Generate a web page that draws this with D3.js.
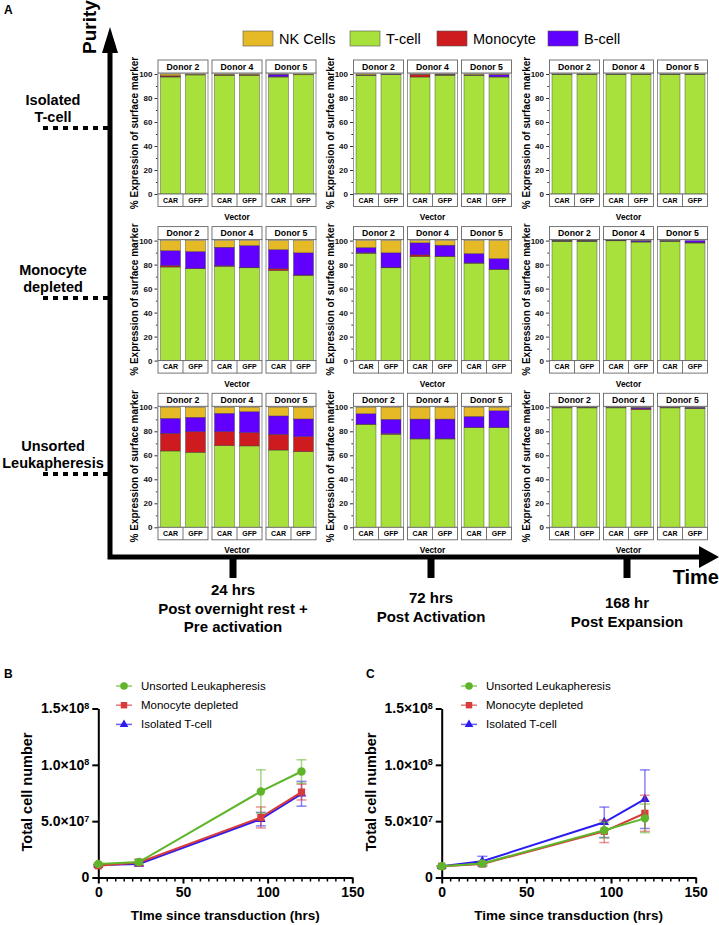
<!DOCTYPE html>
<html><head><meta charset="utf-8">
<script src="https://cdn.jsdelivr.net/npm/d3@7"></script>
<style>
body{margin:0;background:#fff;}
svg{display:block;font-family:"Liberation Sans",Arial,Helvetica,sans-serif;}
</style></head><body>
<svg id="fig" width="719" height="925"></svg>
<script>
// ---------------- DATA ----------------
const rowLabels = [["Isolated","T-cell"],["Monocyte","depleted"],["Unsorted","Leukapheresis"]];
const timeLabels = [["24 hrs","Post overnight rest +","Pre activation"],["72 hrs","Post Activation"],["168 hr","Post Expansion"]];
const donors = ["Donor 2","Donor 4","Donor 5"];
const vectors = ["CAR","GFP"];
const stackKeys = ["T-cell","Monocyte","B-cell","NK Cells"];   // bottom -> top
const legendKeys = ["NK Cells","T-cell","Monocyte","B-cell"];
const pctTicks = [0,20,40,60,80,100];
const pctMinor = [10,30,50,70,90];
// [row][time][bar]; bars = D2 CAR, D2 GFP, D4 CAR, D4 GFP, D5 CAR, D5 GFP
const tcell = [
  [[97.5,99.2,99.0,99.0,97.5,99.3],[99.0,99.5,97.5,99.0,99.0,97.5],[99.8,99.8,99.8,99.8,99.8,99.8]],
  [[78.0,76.5,78.5,77.3,75.1,71.0],[89.5,77.3,86.7,86.7,81.2,76.0],[99.5,99.5,99.8,98.8,99.5,98.0]],
  [[63.6,62.5,68.0,67.8,64.4,63.0],[85.8,77.5,73.6,73.6,83.0,83.0],[99.5,99.5,99.5,98.0,99.5,99.0]]
];
const monocyte = [
  [[0.8,0.2,0.2,0.2,0.3,0.1],[0.1,0.1,2.0,0.3,0.1,0.1],[0.05,0.05,0.05,0.05,0.05,0.05]],
  [[1.2,0.3,0.5,0.3,1.4,0.3],[0.3,0.5,1.4,0.3,0.2,0.2],[0.1,0.1,0.05,0.3,0.1,0.5]],
  [[14.7,17.2,11.7,11.1,13.1,12.6],[0.2,0.6,0.2,0.2,0.2,0.2],[0.1,0.1,0.1,0.8,0.1,0.2]]
];
const bcell = [
  [[0.2,0.2,0.3,0.3,2.0,0.2],[0.1,0.3,0.2,0.5,0.3,2.0],[0.05,0.05,0.05,0.05,0.05,0.05]],
  [[12.4,14.1,15.5,18.3,16.0,18.5],[4.4,12.0,10.0,9.2,7.8,8.8],[0.2,0.2,0.1,0.8,0.3,1.5]],
  [[12.5,12.0,15.3,17.5,15.3,14.7],[8.6,11.9,16.4,16.4,9.2,13.9],[0.2,0.2,0.2,1.0,0.2,0.7]]
];
const nkcell = [
  [[1.5,0.4,0.5,0.5,0.2,0.4],[0.8,0.1,0.3,0.2,0.6,0.4],[0.1,0.1,0.1,0.1,0.1,0.1]],
  [[8.4,9.1,5.5,4.1,7.5,10.2],[5.8,10.2,1.9,3.8,10.8,15.0],[0.2,0.2,0.05,0.1,0.1,0.0]],
  [[9.2,8.3,5.0,3.6,7.2,9.7],[5.4,10.0,9.8,9.8,7.6,2.9],[0.2,0.2,0.2,0.2,0.2,0.1]]
];

const timeHrs = [0,24,96,120];
const seriesNames = ["Unsorted Leukapheresis","Monocyte depleted","Isolated T-cell"];
const unsortedB = [1.19e7,1.37e7,7.64e7,9.41e7], unsortedBErr = [0.1e7,0.2e7,1.92e7,1.04e7];
const monoB     = [1.04e7,1.33e7,5.33e7,7.58e7], monoBErr     = [0.1e7,0.3e7,0.93e7,0.7e7];
const isoB      = [1.10e7,1.20e7,5.18e7,7.43e7], isoBErr      = [0.05e7,0.15e7,0.6e7,1.1e7];
const unsortedC = [1.0e7,1.25e7,4.2e7,5.25e7],   unsortedCErr = [0.05e7,0.1e7,0.7e7,1.27e7];
const monoC     = [1.0e7,1.2e7,4.1e7,5.7e7],     monoCErr     = [0.05e7,0.1e7,1.0e7,1.6e7];
const isoC      = [1.0e7,1.44e7,4.9e7,6.95e7],   isoCErr      = [0.05e7,0.44e7,1.35e7,2.6e7];
const cellTicksY = [0,5e7,1e8,1.5e8];
const hrsTicks = [0,50,100,150];

// ---------------- STYLE ----------------
const cellColor = {"NK Cells":"#E6B927","T-cell":"#A8E13C","Monocyte":"#CE1B1F","B-cell":"#6200FF"};
const lineColor = ["#5FB52A","#D83B3B","#2B1BF2"];

const svg = d3.select("#fig");
const BOLD = "bold";

// panel letters
svg.append("text").attr("x",4).attr("y",14).attr("font-size",12).attr("font-weight",BOLD).text("A");
svg.append("text").attr("x",4).attr("y",678).attr("font-size",12).attr("font-weight",BOLD).text("B");
svg.append("text").attr("x",366).attr("y",678).attr("font-size",12).attr("font-weight",BOLD).text("C");

// ---------------- top legend ----------------
const legX = [243,350,437,548];
legendKeys.forEach((k,i)=>{
  svg.append("rect").attr("x",legX[i]).attr("y",31).attr("width",30).attr("height",15)
    .attr("fill",cellColor[k]).attr("stroke","#555").attr("stroke-width",0.6);
  svg.append("text").attr("x",legX[i]+36).attr("y",39).attr("dy","0.35em")
    .attr("font-size",14.5).text(k);
});

// ---------------- big axes ----------------
svg.append("path").attr("d","M110,48 V557 H703").attr("fill","none").attr("stroke","#000")
  .attr("stroke-width",5).attr("stroke-linejoin","miter");
svg.append("path").attr("d","M110,27 L102,53 L118,53 Z").attr("fill","#000");
svg.append("path").attr("d","M719,557 L699,546 L699,568 Z").attr("fill","#000");
svg.append("text").attr("transform","translate(96,27) rotate(-90)").attr("text-anchor","middle")
  .attr("font-size",19).attr("font-weight",BOLD).text("Purity");
svg.append("text").attr("x",719).attr("y",584).attr("text-anchor","end")
  .attr("font-size",20).attr("font-weight",BOLD).text("Time");

const timeTickX = [233,431,627];
const timeBase = [595,603,608];
timeLabels.forEach((lines,i)=>{
  svg.append("rect").attr("x",timeTickX[i]-3.5).attr("y",557).attr("width",7).attr("height",21).attr("fill","#000");
  lines.forEach((t,j)=>{
    svg.append("text").attr("x",timeTickX[i]).attr("y",timeBase[i]+j*18.5).attr("text-anchor","middle")
      .attr("font-size",15).attr("font-weight",BOLD).text(t);
  });
});

// row labels + dashed lines
const rowDashY = [128,298,474];
rowLabels.forEach((lines,i)=>{
  lines.forEach((t,j)=>{
    svg.append("text").attr("x",53).attr("y",rowDashY[i]-23+j*17).attr("text-anchor","middle")
      .attr("font-size",14.5).attr("font-weight",BOLD).text(t);
  });
  svg.append("line").attr("x1",108).attr("x2",40).attr("y1",rowDashY[i]).attr("y2",rowDashY[i])
    .attr("stroke","#000").attr("stroke-width",4).attr("stroke-dasharray","5,5");
});

// ---------------- stacked bar panels ----------------
const colAxisX = [157.5,353,549];
const rowBaseY = [194,360.6,527.3];
const plotH = 120, headerH = 13, footH = 12.5, panelW = 50, donorStep = 54;

for(let r=0;r<3;r++){
  for(let c=0;c<3;c++){
    const ax = colAxisX[c], base = rowBaseY[r];
    const y = d3.scaleLinear().domain([0,100]).range([base, base-plotH]);
    const gA = svg.append("g").attr("transform",`translate(${ax},0)`)
      .call(d3.axisLeft(y).tickValues(pctTicks).tickSize(3).tickSizeOuter(0).tickPadding(2));
    gA.selectAll("text").attr("font-size",8).attr("font-weight",BOLD).attr("fill","#111").attr("font-family","Liberation Sans, Arial, sans-serif");
    gA.selectAll("line,path").attr("stroke","#333");
    const gM = svg.append("g").attr("transform",`translate(${ax},0)`)
      .call(d3.axisLeft(y).tickValues(pctMinor).tickSize(1.6).tickSizeOuter(0).tickFormat(""));
    gM.select("path").remove();
    gM.selectAll("line").attr("stroke","#333");
    svg.append("text").attr("transform",`translate(${ax-23},${base-61}) rotate(-90)`)
      .attr("text-anchor","middle").attr("dy","0.35em").attr("font-size",10).attr("font-weight",BOLD)
      .text("% Expression of surface marker");
    const cx = ax+0.5+(2*donorStep+panelW)/2;
    svg.append("text").attr("x",cx).attr("y",base+23).attr("dy","0.35em").attr("text-anchor","middle")
      .attr("font-size",8.3).attr("font-weight",BOLD).text("Vector");

    for(let d=0; d<3; d++){
      const px = ax+0.5+d*donorStep;
      const x = d3.scaleBand().domain(vectors).range([px,px+panelW]).paddingInner(0.2).paddingOuter(0.1);
      const table = vectors.map((v,vi)=>{
        const i = d*2+vi;
        return {vector:v,"T-cell":tcell[r][c][i],"Monocyte":monocyte[r][c][i],"B-cell":bcell[r][c][i],"NK Cells":nkcell[r][c][i]};
      });
      const stacked = d3.stack().keys(stackKeys)(table);
      svg.append("rect").attr("x",px).attr("y",base-plotH-1).attr("width",panelW).attr("height",plotH+1)
        .attr("fill","#fff").attr("stroke","#9a9a9a").attr("stroke-width",1);
      stacked.forEach(s=>{
        svg.append("g").selectAll("rect").data(s).join("rect")
          .attr("x",dd=>x(dd.data.vector)).attr("width",x.bandwidth())
          .attr("y",dd=>y(dd[1])).attr("height",dd=>Math.max(0,y(dd[0])-y(dd[1])))
          .attr("fill",cellColor[s.key]).attr("stroke","#3a3a3a").attr("stroke-width",0.4);
      });
      svg.append("rect").attr("x",px).attr("y",base-plotH-1-headerH).attr("width",panelW).attr("height",headerH)
        .attr("fill","#fff").attr("stroke","#666").attr("stroke-width",0.9);
      svg.append("text").attr("x",px+panelW/2).attr("y",base-plotH-1-headerH/2).attr("dy","0.35em")
        .attr("text-anchor","middle").attr("font-size",8.7).attr("font-weight",BOLD).text(donors[d]);
      svg.append("rect").attr("x",px).attr("y",base).attr("width",panelW).attr("height",footH)
        .attr("fill","#fff").attr("stroke","#666").attr("stroke-width",0.9);
      svg.append("line").attr("x1",px+panelW/2).attr("x2",px+panelW/2).attr("y1",base).attr("y2",base+footH)
        .attr("stroke","#666").attr("stroke-width",0.9);
      vectors.forEach(v=>{
        svg.append("text").attr("x",x(v)+x.bandwidth()/2).attr("y",base+footH/2).attr("dy","0.35em")
          .attr("text-anchor","middle").attr("font-size",7).attr("font-weight",BOLD).text(v);
      });
    }
  }
}

// ---------------- line charts ----------------
function lineChart(x0, seriesVals, seriesErr, xTitle, legendX){
  const x = d3.scaleLinear().domain([0,150]).range([x0, x0+254]);
  const y = d3.scaleLinear().domain([0,1.5e8]).range([877.5,708.5]);
  const g = svg.append("g");
  const gm = g.append("g").attr("transform","translate(0,877.5)")
    .call(d3.axisBottom(x).tickValues(d3.range(0,151,5).filter(v=>v%50!==0)).tickSize(4).tickFormat(""));
  gm.select("path").remove();
  gm.selectAll("line").attr("stroke","#000").attr("stroke-width",1.5);
  const gx = g.append("g").attr("transform","translate(0,877.5)")
    .call(d3.axisBottom(x).tickValues(hrsTicks).tickSize(6).tickSizeOuter(0).tickPadding(4));
  gx.selectAll("path,line").attr("stroke","#000").attr("stroke-width",2);
  gx.selectAll("text").attr("font-size",14).attr("font-weight",BOLD).attr("fill","#000").attr("font-family","Liberation Sans, Arial, sans-serif");
  const gy = g.append("g").attr("transform",`translate(${x0},0)`)
    .call(d3.axisLeft(y).tickValues(cellTicksY).tickSize(6).tickSizeOuter(0).tickPadding(3));
  gy.selectAll("path,line").attr("stroke","#000").attr("stroke-width",2);
  gy.selectAll("text").attr("font-size",14).attr("font-weight",BOLD).attr("fill","#000").attr("font-family","Liberation Sans, Arial, sans-serif")
    .each(function(v){
      const t = d3.select(this); t.text(null);
      if(v===0){ t.text("0"); return; }
      const e = Math.floor(Math.log10(v)+1e-9), m = v/Math.pow(10,e);
      t.append("tspan").text(m.toFixed(1)+"×10");
      t.append("tspan").attr("dy","-0.5em").attr("font-size",9).text(e);
    });
  g.append("text").attr("x",x(75)).attr("y",920).attr("text-anchor","middle")
    .attr("font-size",13.5).attr("font-weight",BOLD).text(xTitle);
  g.append("text").attr("transform",`translate(${x0-66},792) rotate(-90)`).attr("text-anchor","middle")
    .attr("font-size",14.5).attr("font-weight",BOLD).text("Total cell number");

  const symbols = [d3.symbolCircle, d3.symbolSquare, d3.symbolTriangle];
  const symSize = [56, 52, 40];
  [2,1,0].forEach(si=>{
    const vals = seriesVals[si], errs = seriesErr[si], col = lineColor[si];
    const pts = timeHrs.map((t,i)=>({t, v:vals[i], e:errs[i]}));
    const eg = g.append("g").attr("stroke",col).attr("stroke-opacity",0.55).attr("stroke-width",1.5);
    pts.forEach(p=>{
      eg.append("line").attr("x1",x(p.t)).attr("x2",x(p.t)).attr("y1",y(p.v-p.e)).attr("y2",y(p.v+p.e));
      eg.append("line").attr("x1",x(p.t)-5).attr("x2",x(p.t)+5).attr("y1",y(p.v-p.e)).attr("y2",y(p.v-p.e));
      eg.append("line").attr("x1",x(p.t)-5).attr("x2",x(p.t)+5).attr("y1",y(p.v+p.e)).attr("y2",y(p.v+p.e));
    });
    g.append("path").datum(pts).attr("fill","none").attr("stroke",col).attr("stroke-width",2)
      .attr("d",d3.line().x(p=>x(p.t)).y(p=>y(p.v)));
    g.append("g").selectAll("path").data(pts).join("path")
      .attr("transform",p=>`translate(${x(p.t)},${y(p.v)})`)
      .attr("d",d3.symbol().type(symbols[si]).size(symSize[si])).attr("fill",col);
  });
  seriesNames.forEach((n,si)=>{
    const ly = 686+si*19.2;
    g.append("line").attr("x1",legendX-8).attr("x2",legendX+8).attr("y1",ly).attr("y2",ly)
      .attr("stroke",lineColor[si]).attr("stroke-width",1.5).attr("stroke-opacity",0.7);
    g.append("path").attr("transform",`translate(${legendX},${ly})`)
      .attr("d",d3.symbol().type(symbols[si]).size(symSize[si]*0.8)).attr("fill",lineColor[si]);
    g.append("text").attr("x",legendX+17).attr("y",ly).attr("dy","0.35em").attr("font-size",11.5).text(n);
  });
}
lineChart(98.3,[unsortedB,monoB,isoB],[unsortedBErr,monoBErr,isoBErr],"TIme since transduction (hrs)",124);
lineChart(441.7,[unsortedC,monoC,isoC],[unsortedCErr,monoCErr,isoCErr],"Time since transduction (hrs)",469);
</script>
</body></html>
